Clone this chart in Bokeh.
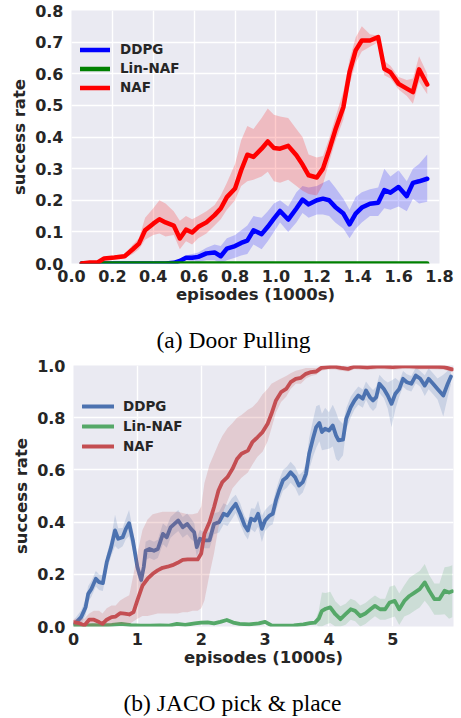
from bokeh.plotting import figure
from bokeh.models import Range1d, FixedTicker, Legend, LegendItem, Title
from bokeh.embed import file_html
from bokeh.resources import INLINE

FONT = "DejaVu Sans"
SERIF = "Liberation Serif"
BG = "#EAEAF2"
TXT = "#262626"

# ---------------- (a) Door Pulling ----------------
door_x = [0.05, 0.09, 0.13, 0.16, 0.21, 0.26, 0.30, 0.33, 0.36, 0.40,
          0.43, 0.46, 0.50, 0.53, 0.56, 0.59, 0.62, 0.66, 0.70, 0.73,
          0.76, 0.80, 0.83, 0.86, 0.89, 0.93, 0.96, 0.99, 1.02, 1.06,
          1.10, 1.13, 1.16, 1.20, 1.23, 1.26, 1.29, 1.33, 1.36, 1.39,
          1.42, 1.46, 1.50, 1.53, 1.56, 1.60, 1.64, 1.67, 1.70, 1.74]
door_naf = [0.0, 0.003, 0.004, 0.016, 0.019, 0.023, 0.045, 0.063, 0.105, 0.126,
            0.14, 0.13, 0.12, 0.079, 0.107, 0.098, 0.116, 0.13, 0.153, 0.174,
            0.21, 0.237, 0.295, 0.344, 0.337, 0.363, 0.386, 0.365, 0.363, 0.372,
            0.342, 0.313, 0.279, 0.272, 0.30, 0.358, 0.421, 0.495, 0.605, 0.674,
            0.705, 0.705, 0.716, 0.616, 0.605, 0.568, 0.553, 0.542, 0.614, 0.566]
door_naf_hi = [0.0, 0.004, 0.006, 0.02, 0.025, 0.03, 0.06, 0.08, 0.145, 0.175,
               0.20, 0.19, 0.165, 0.135, 0.15, 0.14, 0.15, 0.165, 0.185, 0.215,
               0.255, 0.315, 0.39, 0.435, 0.425, 0.46, 0.49, 0.47, 0.465, 0.46,
               0.425, 0.40, 0.345, 0.335, 0.34, 0.395, 0.46, 0.545, 0.645, 0.715,
               0.75, 0.725, 0.72, 0.64, 0.625, 0.59, 0.58, 0.585, 0.655, 0.60]
door_naf_lo = [0.0, 0.002, 0.002, 0.012, 0.014, 0.017, 0.03, 0.045, 0.075, 0.09,
               0.095, 0.085, 0.09, 0.045, 0.07, 0.06, 0.08, 0.095, 0.12, 0.14,
               0.17, 0.20, 0.245, 0.26, 0.265, 0.275, 0.29, 0.26, 0.255, 0.265,
               0.245, 0.23, 0.22, 0.215, 0.25, 0.32, 0.385, 0.455, 0.565, 0.635,
               0.67, 0.685, 0.70, 0.595, 0.585, 0.55, 0.53, 0.505, 0.575, 0.535]
door_ddpg = [0.0, 0.0, 0.0, 0.0, 0.0, 0.0, 0.0, 0.0, 0.0, 0.0,
             0.0, 0.0, 0.002, 0.008, 0.018, 0.018, 0.021, 0.032, 0.035, 0.023,
             0.047, 0.055, 0.065, 0.072, 0.105, 0.093, 0.116, 0.142, 0.166, 0.139,
             0.174, 0.202, 0.187, 0.20, 0.205, 0.20, 0.179, 0.158, 0.124, 0.158,
             0.177, 0.189, 0.192, 0.232, 0.224, 0.242, 0.213, 0.255, 0.26, 0.268]
door_ddpg_hi = [0.0, 0.0, 0.0, 0.0, 0.0, 0.0, 0.0, 0.0, 0.0, 0.0,
                0.0, 0.0, 0.004, 0.014, 0.025, 0.03, 0.035, 0.05, 0.06, 0.055,
                0.08, 0.09, 0.105, 0.12, 0.15, 0.145, 0.165, 0.19, 0.20, 0.18,
                0.225, 0.245, 0.24, 0.245, 0.255, 0.265, 0.24, 0.205, 0.17, 0.21,
                0.225, 0.235, 0.24, 0.30, 0.275, 0.295, 0.26, 0.30, 0.315, 0.345]
door_ddpg_lo = [0.0, 0.0, 0.0, 0.0, 0.0, 0.0, 0.0, 0.0, 0.0, 0.0,
                0.0, 0.0, 0.0, 0.002, 0.01, 0.006, 0.005, 0.01, 0.01, 0.0,
                0.01, 0.018, 0.025, 0.03, 0.06, 0.045, 0.07, 0.10, 0.13, 0.10,
                0.13, 0.16, 0.145, 0.155, 0.155, 0.15, 0.13, 0.11, 0.08, 0.11,
                0.13, 0.15, 0.15, 0.175, 0.17, 0.18, 0.165, 0.205, 0.19, 0.195]
door_lin_x = [0.05, 1.74]
door_lin = [0.0, 0.0]

door_xticks = [0.0, 0.2, 0.4, 0.6, 0.8, 1.0, 1.2, 1.4, 1.6, 1.8]
door_xlabels = ["0.0", "0.2", "0.4", "0.6", "0.8", "1.0", "1.2", "1.4", "1.6", "1.8"]
door_yticks = [0.0, 0.1, 0.2, 0.3, 0.4, 0.5, 0.6, 0.7, 0.8]
door_ylabels = ["0.0", "0.1", "0.2", "0.3", "0.4", "0.5", "0.6", "0.7", "0.8"]

# ---------------- (b) JACO pick & place ----------------
jaco_ddpg_x = [0.02, 0.12, 0.19, 0.23, 0.28, 0.35, 0.40, 0.46, 0.52, 0.59,
               0.65, 0.70, 0.77, 0.82, 0.87, 0.93, 1.0, 1.06, 1.10, 1.13,
               1.19, 1.26, 1.32, 1.40, 1.46, 1.52, 1.58, 1.64, 1.71, 1.78,
               1.84, 1.89, 1.93, 1.98, 2.05, 2.13, 2.20, 2.28, 2.35, 2.41,
               2.48, 2.54, 2.61, 2.68, 2.73, 2.78, 2.84, 2.89, 2.95, 3.0,
               3.07, 3.12, 3.17, 3.22, 3.28, 3.34, 3.40, 3.47, 3.53, 3.59,
               3.64, 3.69, 3.75, 3.80, 3.85, 3.89, 3.94, 4.0, 4.06, 4.11,
               4.15, 4.22, 4.27, 4.34, 4.40, 4.46, 4.53, 4.58, 4.64, 4.69,
               4.74, 4.79, 4.86, 4.92, 4.98, 5.04, 5.10, 5.16, 5.22, 5.29,
               5.36, 5.43, 5.50, 5.56, 5.63, 5.70, 5.79, 5.86, 5.91]
jaco_ddpg = [0.01, 0.036, 0.074, 0.125, 0.144, 0.183, 0.17, 0.166, 0.246, 0.304,
             0.368, 0.336, 0.342, 0.374, 0.396, 0.33, 0.228, 0.178, 0.228, 0.29,
             0.297, 0.29, 0.297, 0.355, 0.342, 0.38, 0.393, 0.406, 0.38, 0.393,
             0.374, 0.361, 0.304, 0.336, 0.33, 0.33, 0.393, 0.40, 0.432, 0.425,
             0.451, 0.47, 0.432, 0.387, 0.368, 0.413, 0.406, 0.432, 0.374, 0.406,
             0.425, 0.432, 0.483, 0.521, 0.56, 0.572, 0.591, 0.572, 0.54, 0.553,
             0.585, 0.662, 0.72, 0.764, 0.78, 0.745, 0.758, 0.751, 0.77, 0.732,
             0.713, 0.716, 0.796, 0.84, 0.866, 0.885, 0.873, 0.904, 0.879, 0.866,
             0.879, 0.93, 0.91, 0.885, 0.853, 0.892, 0.91, 0.949, 0.936, 0.93,
             0.962, 0.949, 0.923, 0.949, 0.93, 0.91, 0.885, 0.93, 0.958]
jaco_ddpg_hw = [0.02, 0.025, 0.03, 0.03, 0.03, 0.03, 0.03, 0.03, 0.03, 0.035,
                0.06, 0.04, 0.035, 0.04, 0.05, 0.04, 0.03, 0.025, 0.03, 0.035,
                0.035, 0.035, 0.035, 0.04, 0.04, 0.04, 0.04, 0.04, 0.04, 0.04,
                0.04, 0.035, 0.035, 0.035, 0.03, 0.03, 0.04, 0.04, 0.04, 0.04,
                0.04, 0.035, 0.04, 0.035, 0.035, 0.04, 0.045, 0.05, 0.05, 0.04,
                0.04, 0.04, 0.04, 0.04, 0.04, 0.04, 0.04, 0.04, 0.04, 0.04,
                0.04, 0.06, 0.07, 0.08, 0.07, 0.07, 0.08, 0.07, 0.08, 0.09,
                0.08, 0.06, 0.04, 0.04, 0.035, 0.035, 0.035, 0.035, 0.04, 0.04,
                0.04, 0.035, 0.035, 0.05, 0.09, 0.06, 0.03, 0.03, 0.03, 0.03,
                0.03, 0.03, 0.04, 0.04, 0.04, 0.04, 0.08, 0.05, 0.03]

jaco_naf_x = [0.0, 0.09, 0.17, 0.245, 0.32, 0.40, 0.455, 0.52, 0.596, 0.66,
              0.73, 0.80, 0.873, 0.94, 1.0, 1.08, 1.16, 1.24, 1.317, 1.395,
              1.473, 1.55, 1.63, 1.71, 1.787, 1.865, 1.944, 2.0, 2.05, 2.13,
              2.2, 2.27, 2.33, 2.41, 2.49, 2.56, 2.63, 2.73, 2.8, 2.88,
              2.96, 3.04, 3.1, 3.17, 3.25, 3.33, 3.4, 3.48, 3.56, 3.64,
              3.72, 3.8, 3.88, 3.98, 4.09, 4.19, 4.3, 4.4, 4.6, 4.8,
              5.0, 5.2, 5.4, 5.6, 5.8, 5.93]
jaco_naf = [0.017, 0.013, 0.004, 0.026, 0.026, 0.017, 0.01, 0.026, 0.036, 0.038,
            0.051, 0.049, 0.046, 0.055, 0.10, 0.157, 0.183, 0.202, 0.215, 0.225,
            0.229, 0.235, 0.244, 0.255, 0.257, 0.257, 0.257, 0.28, 0.355, 0.40,
            0.457, 0.521, 0.553, 0.572, 0.604, 0.642, 0.662, 0.674, 0.706, 0.725,
            0.745, 0.777, 0.815, 0.866, 0.898, 0.91, 0.936, 0.949, 0.953, 0.968,
            0.975, 0.977, 0.991, 0.994, 0.996, 0.991, 0.987, 0.996, 0.993, 0.997,
            0.994, 0.998, 0.995, 0.996, 0.994, 0.985]
jaco_naf_lo = [0.0, 0.0, 0.0, 0.0, 0.0, 0.0, 0.0, 0.0, 0.005, 0.01,
               0.01, 0.01, 0.01, 0.02, 0.03, 0.04, 0.04, 0.045, 0.05, 0.05,
               0.05, 0.05, 0.05, 0.055, 0.055, 0.06, 0.06, 0.07, 0.10, 0.20,
               0.28, 0.38, 0.43, 0.48, 0.53, 0.55, 0.57, 0.59, 0.62, 0.65,
               0.67, 0.71, 0.76, 0.82, 0.86, 0.88, 0.91, 0.93, 0.93, 0.95,
               0.96, 0.965, 0.98, 0.985, 0.985, 0.98, 0.977, 0.986, 0.983, 0.987,
               0.984, 0.988, 0.985, 0.986, 0.984, 0.975]
jaco_naf_hi = [0.03, 0.03, 0.03, 0.05, 0.06, 0.06, 0.05, 0.07, 0.08, 0.08,
               0.10, 0.11, 0.12, 0.20, 0.28, 0.37, 0.41, 0.43, 0.435, 0.44,
               0.44, 0.44, 0.44, 0.435, 0.43, 0.43, 0.435, 0.46, 0.55, 0.62,
               0.66, 0.70, 0.73, 0.76, 0.78, 0.80, 0.81, 0.83, 0.84, 0.86,
               0.89, 0.91, 0.93, 0.94, 0.95, 0.96, 0.97, 0.98, 0.985, 0.99,
               0.99, 0.99, 0.997, 0.999, 1.0, 0.997, 0.993, 1.0, 0.998, 1.0,
               0.999, 1.0, 1.0, 1.0, 0.999, 0.993]

jaco_lin_x = [0.0, 0.15, 0.3, 0.45, 0.6, 0.75, 0.9, 1.05, 1.2, 1.35,
              1.5, 1.62, 1.75, 1.9, 2.0, 2.1, 2.2, 2.3, 2.4, 2.5,
              2.6, 2.75, 2.9, 3.0, 3.1, 3.2, 3.3, 3.45, 3.6, 3.7,
              3.78, 3.84, 3.89, 3.95, 4.02, 4.1, 4.18, 4.26, 4.34, 4.41,
              4.49, 4.57, 4.65, 4.72, 4.8, 4.88, 4.95, 5.03, 5.1, 5.18,
              5.26, 5.34, 5.42, 5.5, 5.57, 5.65, 5.73, 5.81, 5.88, 5.93]
jaco_lin = [0.004, 0.003, 0.005, 0.004, 0.006, 0.01, 0.005, 0.003, 0.003, 0.004,
            0.003, 0.01, 0.006, 0.012, 0.015, 0.016, 0.012, 0.018, 0.025, 0.015,
            0.01, 0.008, 0.012, 0.018, 0.004, 0.003, 0.003, 0.004, 0.008, 0.013,
            0.015, 0.03, 0.06, 0.068, 0.073, 0.047, 0.028, 0.047, 0.066, 0.06,
            0.04, 0.05, 0.066, 0.079, 0.066, 0.066, 0.092, 0.098, 0.066, 0.098,
            0.117, 0.13, 0.143, 0.169, 0.137, 0.105, 0.105, 0.137, 0.13, 0.135]
jaco_lin_hw = [0.005, 0.005, 0.005, 0.005, 0.005, 0.005, 0.005, 0.005, 0.005, 0.005,
               0.005, 0.005, 0.005, 0.005, 0.005, 0.005, 0.005, 0.005, 0.005, 0.005,
               0.005, 0.005, 0.005, 0.005, 0.005, 0.005, 0.005, 0.005, 0.005, 0.005,
               0.005, 0.03, 0.07, 0.06, 0.06, 0.05, 0.05, 0.04, 0.04, 0.04,
               0.04, 0.04, 0.04, 0.04, 0.04, 0.04, 0.06, 0.06, 0.06, 0.06,
               0.07, 0.07, 0.07, 0.07, 0.06, 0.06, 0.06, 0.09, 0.10, 0.10]

jaco_xticks = [0, 1, 2, 3, 4, 5]
jaco_xlabels = ["0", "1", "2", "3", "4", "5"]
jaco_yticks = [0.0, 0.2, 0.4, 0.6, 0.8, 1.0]
jaco_ylabels = ["0.0", "0.2", "0.4", "0.6", "0.8", "1.0"]

series_names = ["DDPG", "Lin-NAF", "NAF"]
door_colors = ["#0000FF", "#008000", "#FF0000"]
jaco_colors = ["#4C72B0", "#55A868", "#C44E52"]
captions = ["(a) Door Pulling", "(b) JACO pick & place"]


def style(p, xticks, xlabels, yticks, ylabels):
    p.background_fill_color = BG
    p.border_fill_color = "white"
    p.outline_line_color = None
    p.grid.grid_line_color = "white"
    p.grid.grid_line_width = 1.4
    p.xaxis.ticker = FixedTicker(ticks=xticks)
    p.yaxis.ticker = FixedTicker(ticks=yticks)
    p.xaxis.major_label_overrides = dict(zip(xticks, xlabels))
    p.yaxis.major_label_overrides = dict(zip(yticks, ylabels))
    for ax in (p.xaxis[0], p.yaxis[0]):
        ax.axis_line_color = None
        ax.major_tick_line_color = None
        ax.minor_tick_line_color = None
        ax.major_tick_out = 0
        ax.major_tick_in = 0
        ax.major_label_text_font = FONT
        ax.major_label_text_font_style = "bold"
        ax.major_label_text_font_size = "16px"
        ax.major_label_text_color = TXT
        ax.axis_label_text_font = FONT
        ax.axis_label_text_font_style = "bold"
        ax.axis_label_text_font_size = "16.5px"
        ax.axis_label_text_color = TXT
    p.xaxis.major_label_standoff = 6
    p.xaxis.axis_label_standoff = 0
    p.yaxis.major_label_standoff = 8
    p.yaxis.axis_label_standoff = 3
    p.xaxis.axis_label = "episodes (1000s)"
    p.yaxis.axis_label = "success rate"


def make_legend(renderers, loc, row_h, glyph_w, standoff):
    items = [LegendItem(label=n, renderers=[r]) for n, r in zip(series_names, renderers)]
    return Legend(items=items, location=loc, orientation="vertical",
                  glyph_width=glyph_w, glyph_height=row_h, label_height=row_h,
                  label_standoff=standoff, spacing=0, padding=0, margin=0,
                  background_fill_alpha=0, border_line_alpha=0,
                  label_text_font=FONT, label_text_font_style="bold",
                  label_text_font_size="13.5px", label_text_color=TXT)


def caption(text, offset, standoff):
    return Title(text=text, align="left", offset=offset, standoff=standoff,
                 text_font=SERIF, text_font_size="23.5px", text_font_style="normal",
                 text_color="black")


# ----- figure (a) -----
pa = figure(width=455, height=308, x_range=Range1d(0, 1.8), y_range=Range1d(0, 0.8),
            output_backend="svg", toolbar_location=None, title=None,
            min_border_left=71, min_border_right=16, min_border_top=10, min_border_bottom=45)
style(pa, door_xticks, door_xlabels, door_yticks, door_ylabels)

pa.varea(x=door_x, y1=door_ddpg_lo, y2=door_ddpg_hi, fill_color=door_colors[0], fill_alpha=0.2)
ra1 = pa.line(door_x, door_ddpg, line_color=door_colors[0], line_width=4.5, line_join="round", line_cap="round")
ra2 = pa.line(door_lin_x, door_lin, line_color=door_colors[1], line_width=4.5, line_join="round", line_cap="round")
pa.varea(x=door_x, y1=door_naf_lo, y2=door_naf_hi, fill_color=door_colors[2], fill_alpha=0.2)
ra3 = pa.line(door_x, door_naf, line_color=door_colors[2], line_width=4.5, line_join="round", line_cap="round")
pa.add_layout(make_legend([ra1, ra2, ra3], (9, 166.5), 19, 30, 10))

# ----- figure (b) (caption (a) sits in its top border) -----
pb = figure(width=455, height=363, x_range=Range1d(0, 5.95), y_range=Range1d(0, 1.0),
            output_backend="svg", toolbar_location=None, title=None,
            min_border_left=73, min_border_right=2, min_border_top=57, min_border_bottom=45)
style(pb, jaco_xticks, jaco_xlabels, jaco_yticks, jaco_ylabels)
pb.add_layout(caption(captions[0], 83, 26), "above")

ddpg_lo = [max(0.0, v - h) for v, h in zip(jaco_ddpg, jaco_ddpg_hw)]
ddpg_hi = [min(1.0, v + h) for v, h in zip(jaco_ddpg, jaco_ddpg_hw)]
lin_lo = [max(0.0, v - h) for v, h in zip(jaco_lin, jaco_lin_hw)]
lin_hi = [v + h for v, h in zip(jaco_lin, jaco_lin_hw)]

pb.varea(x=jaco_ddpg_x, y1=ddpg_lo, y2=ddpg_hi, fill_color=jaco_colors[0], fill_alpha=0.2)
rb1 = pb.line(jaco_ddpg_x, jaco_ddpg, line_color=jaco_colors[0], line_width=3.8, line_join="round", line_cap="round")
pb.varea(x=jaco_lin_x, y1=lin_lo, y2=lin_hi, fill_color=jaco_colors[1], fill_alpha=0.2)
rb2 = pb.line(jaco_lin_x, jaco_lin, line_color=jaco_colors[1], line_width=3.8, line_join="round", line_cap="round")
pb.varea(x=jaco_naf_x, y1=jaco_naf_lo, y2=jaco_naf_hi, fill_color=jaco_colors[2], fill_alpha=0.2)
rb3 = pb.line(jaco_naf_x, jaco_naf, line_color=jaco_colors[2], line_width=3.8, line_join="round", line_cap="round")
pb.add_layout(make_legend([rb1, rb2, rb3], (9, 170), 20, 32, 9))

# ----- caption strip for (b) -----
pc = figure(width=455, height=47, x_axis_type=None, y_axis_type=None,
            output_backend="svg", toolbar_location=None, title=None,
            min_border_left=0, min_border_right=0, min_border_top=45, min_border_bottom=0)
pc.background_fill_color = "white"
pc.border_fill_color = "white"
pc.outline_line_color = None
pc.add_layout(caption(captions[1], 123, 2), "above")

open("out.html", "w").write(file_html([pa, pb, pc], INLINE))
